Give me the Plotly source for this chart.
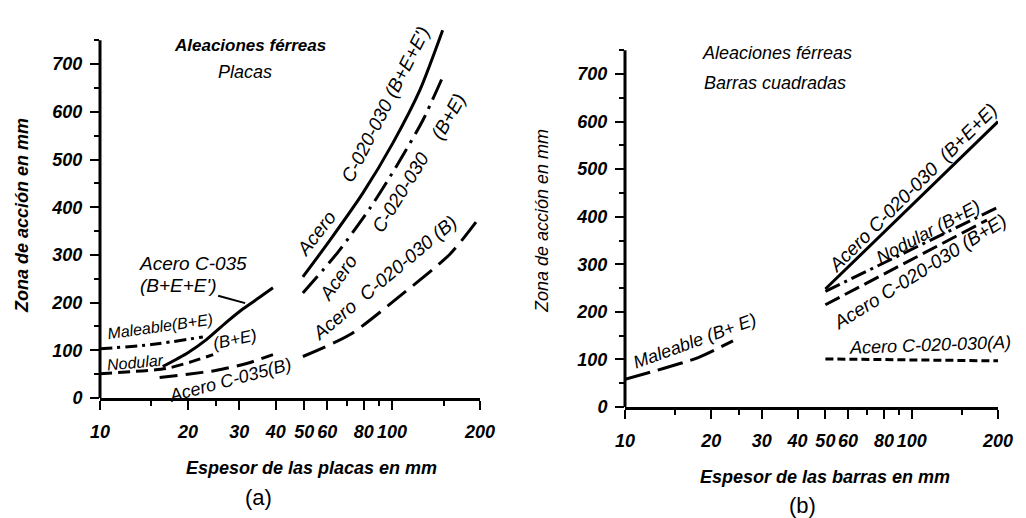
import numpy as np
import plotly.graph_objects as go

# ---------------- data : panel (a) Placas ----------------
a_c035_bee_x = [16.4, 20.0, 23.2, 27.0, 30.9, 35.0, 39.1]
a_c035_bee_y = [66, 95, 123, 158, 187, 210, 231]

a_maleable_x = [10, 15, 22.5]
a_maleable_y = [103, 112, 128]

a_nodular_x = [10, 16.9, 20.3, 24.4]
a_nodular_y = [51, 62, 75, 91]

a_c035_b_x = [16.0, 20.0, 25.1, 32.0, 39.1]
a_c035_b_y = [43, 50, 58, 73, 91]

a_c020_bee_x = [49.5, 61.3, 79.5, 100.7, 124.6, 149.0]
a_c020_bee_y = [254, 331, 430, 535, 646, 771]

a_c020_be_x = [49.5, 65.3, 84.0, 104, 127.6, 149]
a_c020_be_y = [220, 306, 398, 488, 583, 673]

a_c020_b_x = [49.5, 71.8, 106, 158, 200]
a_c020_b_y = [87, 133, 213, 302, 380]

# ---------------- data : panel (b) Barras cuadradas ----------------
b_maleable_x = [10, 13.6, 18, 23.8]
b_maleable_y = [58, 81, 104, 139]

b_c020_bee_x = [50, 200]
b_c020_bee_y = [248, 600]

b_nodular_x = [50, 200]
b_nodular_y = [243, 420]

b_c020_be_x = [50, 183]
b_c020_be_y = [215, 393]

b_c020_a_x = [50, 200]
b_c020_a_y = [101, 97]

# ---------------- axes ----------------
x_tickvals = [10, 20, 30, 40, 50, 60, 80, 100, 200]
x_ticktext = ["10", "20", "30", "40", "50", "60", "80", "100", "200"]
x_minorvals = [15, 25, 70, 90, 150]
y_tickvals = [0, 100, 200, 300, 400, 500, 600, 700]

FONT = "Liberation Sans"
lx = np.log10

fig = go.Figure()


def add_line(x, y, dash, xa, ya, width=3):
    fig.add_trace(go.Scatter(
        x=x, y=y, mode="lines", xaxis=xa, yaxis=ya,
        line=dict(color="black", width=width, dash=dash, shape="spline", smoothing=0.7),
        showlegend=False, hoverinfo="skip"))


# panel (a)
add_line(a_c035_bee_x, a_c035_bee_y, "solid", "x", "y")
add_line(a_maleable_x, a_maleable_y, "12px,5px,3px,5px", "x", "y")
add_line(a_nodular_x, a_nodular_y, "12px,6px", "x", "y")
add_line(a_c035_b_x, a_c035_b_y, "18px,8px", "x", "y")
add_line(a_c020_bee_x, a_c020_bee_y, "solid", "x", "y")
add_line(a_c020_be_x, a_c020_be_y, "22px,7px,3px,7px", "x", "y")
add_line(a_c020_b_x, a_c020_b_y, "24px,9px", "x", "y")

# panel (b)
add_line(b_maleable_x, b_maleable_y, "26px,8px", "x2", "y2")
add_line(b_c020_bee_x, b_c020_bee_y, "solid", "x2", "y2")
add_line(b_nodular_x, b_nodular_y, "16px,5px,3px,5px", "x2", "y2")
add_line(b_c020_be_x, b_c020_be_y, "16px,6px", "x2", "y2")
add_line(b_c020_a_x, b_c020_a_y, "8px,4px", "x2", "y2")

W, H = 1026, 518

xaxis_common = dict(
    type="log", range=[1, np.log10(200)], automargin=False,
    tickvals=x_tickvals, ticktext=x_ticktext,
    ticks="outside", ticklen=9, tickwidth=2, tickcolor="black",
    showline=True, linecolor="black", linewidth=3,
    showgrid=False, zeroline=False,
    tickfont=dict(family=FONT, size=18, color="black", weight="bold", style="italic"),
    ticklabelstandoff=6,
    minor=dict(tickvals=x_minorvals, ticks="outside", ticklen=5, tickwidth=2, tickcolor="black", showgrid=False),
)
yaxis_common = dict(
    range=[0, 780], tickvals=y_tickvals, automargin=False,
    ticks="outside", ticklen=9, tickwidth=2, tickcolor="black",
    showline=False, showgrid=False, zeroline=False,
    tickfont=dict(family=FONT, size=18, color="black", weight="bold", style="italic"),
    ticklabelstandoff=4,
    minor=dict(dtick=50, ticks="outside", ticklen=5, tickwidth=2, tickcolor="black", showgrid=False),
)

fig.update_layout(
    width=W, height=H,
    margin=dict(l=0, r=0, t=0, b=0, autoexpand=False),
    paper_bgcolor="white", plot_bgcolor="white",
    showlegend=False,
    xaxis=dict(domain=[100 / W, 480 / W], anchor="y", **xaxis_common),
    yaxis=dict(domain=[1 - 398 / H, 0.9498], anchor="x", **yaxis_common),
    xaxis2=dict(domain=[625 / W, 998 / W], anchor="y2", **xaxis_common),
    yaxis2=dict(domain=[1 - 407 / H, 0.9305], anchor="x2", **yaxis_common),
)

# y-axis lines (stop at 750)
for xr, yr in (("x domain", "y"), ("x2 domain", "y2")):
    fig.add_shape(type="line", xref=xr, yref=yr, x0=0, x1=0, y0=0, y1=750,
                  line=dict(color="black", width=3))


def ann(text, x, y, xref, yref, angle=0, size=17, bold=False, italic=True):
    fig.add_annotation(
        text=text, x=x, y=y, xref=xref, yref=yref, showarrow=False,
        textangle=angle, xanchor="center", yanchor="middle",
        font=dict(family=FONT, size=size, color="black",
                  style="italic" if italic else "normal",
                  weight="bold" if bold else "normal"))


# panel (a) labels
ann("Aleaciones férreas", lx(32.6), 740, "x", "y", 0, 17, True)
ann("Placas", lx(31.4), 683, "x", "y", 0, 18)
ann("Acero C-035", lx(20.8), 283, "x", "y", 0, 19)
fig.add_annotation(text="(B+E+E')", x=lx(31.4), y=199, xref="x", yref="y",
                   showarrow=True, arrowhead=0, arrowwidth=2, arrowcolor="black",
                   ax=-67, ay=-18, standoff=0,
                   font=dict(family=FONT, size=19, color="black", style="italic"))
ann("Maleable(B+E)", lx(16.0), 150, "x", "y", -8, 16)
ann("Nodular", lx(13.2), 75, "x", "y", -5, 16)
ann("(B+E)", lx(29.0), 122, "x", "y", -12, 17)
ann("Acero C-035(B)", lx(27.9), 38, "x", "y", -15, 18)
ann("Acero", lx(55.0), 345, "x", "y", -52, 19)
ann("C-020-030 (B+E+E')", lx(95.0), 615, "x", "y", -63, 19)
ann("Acero", lx(65.5), 252, "x", "y", -55, 19)
ann("C-020-030", lx(107), 430, "x", "y", -58, 19)
ann("(B+E)", lx(156), 590, "x", "y", -60, 19)
ann("Acero  C-020-030 (B)", lx(94.6), 252, "x", "y", -40, 19)

# panel (b) labels
ann("Aleaciones férreas", lx(33.9), 744, "x2", "y2", 0, 18)
ann("Barras cuadradas", lx(33.4), 681, "x2", "y2", 0, 18)
ann("Maleable (B+ E)", lx(17.5), 139, "x2", "y2", -20, 18)
ann("Acero C-020-030  (B+E+E)", lx(101), 462, "x2", "y2", -45, 19)
ann("Nodular (B+E)", lx(114), 368, "x2", "y2", -28, 18)
ann("Acero C-020-030 (B+E)", lx(107), 284, "x2", "y2", -32, 19)
ann("Acero C-020-030(A)", lx(116), 130, "x2", "y2", -2, 18)

# axis titles and panel letters
ann("Espesor de las placas en mm", 311 / W, 1 - 468 / H, "paper", "paper", 0, 18, True)
ann("(a)", 258 / W, 1 - 497 / H, "paper", "paper", 0, 22, False, False)
ann("Zona de acción en mm", 22 / W, 1 - 216 / H, "paper", "paper", -90, 18, True)
ann("Espesor de las barras en mm", 825 / W, 1 - 477 / H, "paper", "paper", 0, 18, True)
ann("(b)", 802 / W, 1 - 505 / H, "paper", "paper", 0, 22, False, False)
ann("Zona de acción en mm", 542 / W, 1 - 221 / H, "paper", "paper", -90, 18)

fig.write_html("out.html", config={"displayModeBar": False},
               post_script="document.body.style.margin='0';")
